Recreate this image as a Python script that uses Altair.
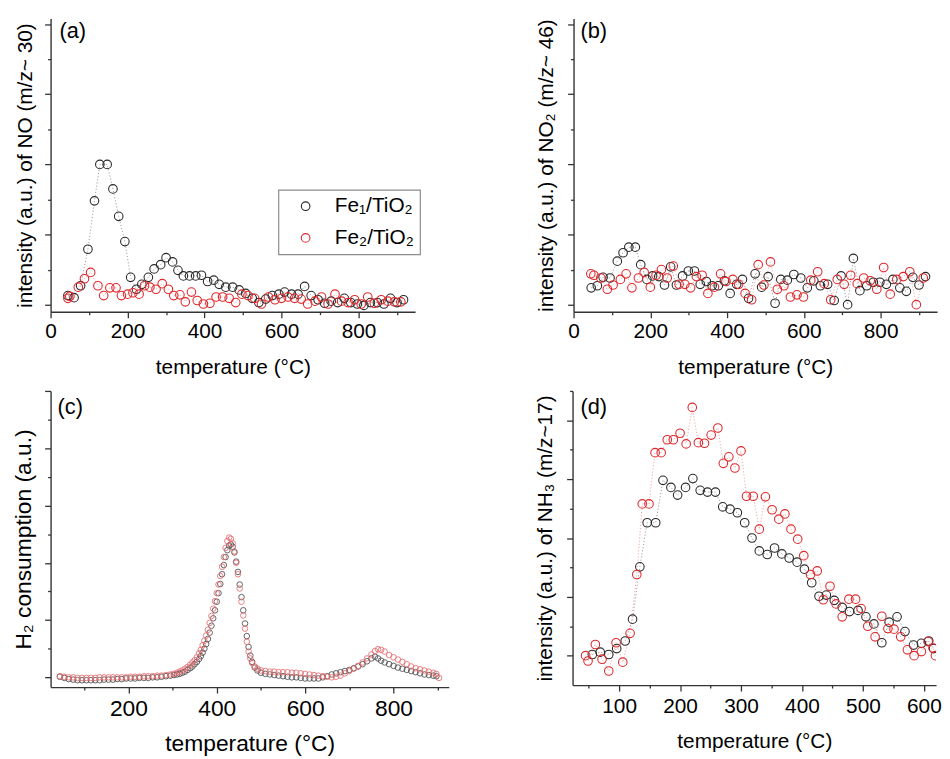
import altair as alt
import pandas as pd

FONT = "Liberation Sans"
S1 = "Fe₁/TiO₂"
S2 = "Fe₂/TiO₂"
BLACK = "#2a2a2a"
RED = "#e0282c"
BLACK_LINE = "#a0a0a0"
RED_LINE = "#f3a6a6"
C_BLACK = "#4a4a4a"
C_RED = "#e86a6e"

# ---------------- (a) NO, m/z 30 ----------------
A_T1 = [45, 61, 78, 97, 114, 128, 147, 162, 177, 193, 208, 223, 237, 254, 269, 286, 300, 317,
        331, 345, 361, 377, 392, 408, 424, 438, 455, 473, 490, 507, 524, 541, 559, 576, 593, 608,
        626, 643, 660, 677, 695, 712, 729, 746, 763, 780, 797, 814, 831, 849, 866, 883, 900, 917]
A_Y1 = [0.13, 0.10, 0.27, 0.79, 1.48, 2.0, 2.0, 1.65, 1.26, 0.90, 0.39, 0.22, 0.29, 0.39, 0.51,
        0.57, 0.67, 0.61, 0.49, 0.41, 0.41, 0.41, 0.42, 0.33, 0.35, 0.29, 0.25, 0.25, 0.21, 0.16,
        0.09, 0.03, 0.08, 0.13, 0.15, 0.18, 0.15, 0.15, 0.26, 0.13, 0.07, 0.02, 0.05, 0.03, 0.09,
        0.03, 0.01, -0.01, 0.03, 0.03, 0.01, 0.09, 0.03, 0.07]
A_T2 = [45, 50, 72, 88, 104, 123, 138, 154, 170, 184, 200, 214, 230, 244, 258, 274, 290, 306,
        320, 336, 350, 366, 381, 397, 414, 430, 447, 464, 481, 497, 513, 530, 548, 566, 583, 600,
        617, 634, 651, 668, 687, 704, 721, 739, 756, 773, 790, 807, 824, 841, 859, 876, 893, 910]
A_Y2 = [0.09, 0.12, 0.25, 0.37, 0.46, 0.27, 0.13, 0.24, 0.24, 0.13, 0.15, 0.17, 0.15, 0.27, 0.25,
        0.22, 0.30, 0.22, 0.13, 0.14, 0.04, 0.18, 0.06, 0.01, 0.02, 0.11, 0.11, 0.09, 0.03, 0.15,
        0.13, 0.09, 0.01, 0.11, 0.07, 0.09, 0.11, 0.09, 0.08, 0.01, 0.05, 0.11, 0.01, 0.15, 0.05,
        0.03, 0.07, 0.01, 0.11, 0.02, 0.07, 0.05, 0.04, 0.04]

# ---------------- (b) NO2, m/z 46 ----------------
B_T1 = [46, 62, 77, 95, 114, 129, 144, 161, 175, 191, 206, 222, 237, 253, 268, 284, 299, 315,
        330, 346, 361, 377, 393, 408, 425, 440, 456, 473, 490, 507, 525, 540, 557, 574, 592, 609,
        626, 643, 662, 679, 697, 714, 729, 746, 764, 781, 798, 815, 832, 850, 867, 884, 900, 917]
B_Y1 = [0.24, 0.27, 0.39, 0.38, 0.62, 0.74, 0.82, 0.82, 0.57, 0.36, 0.41, 0.40, 0.28, 0.54, 0.28,
        0.41, 0.48, 0.48, 0.29, 0.33, 0.27, 0.27, 0.34, 0.16, 0.29, 0.36, 0.09, 0.44, 0.25, 0.40,
        0.02, 0.36, 0.35, 0.43, 0.38, 0.24, 0.34, 0.27, 0.29, 0.06, 0.41, 0.0, 0.66, 0.20, 0.27,
        0.32, 0.32, 0.29, 0.36, 0.24, 0.19, 0.39, 0.28, 0.40]
B_T2 = [45, 53, 71, 88, 103, 122, 137, 152, 169, 184, 200, 215, 229, 244, 260, 275, 290, 305,
        320, 335, 350, 367, 383, 397, 415, 430, 447, 464, 481, 496, 513, 531, 548, 565, 582, 599,
        618, 636, 653, 670, 687, 705, 722, 739, 756, 773, 790, 808, 825, 842, 859, 876, 893, 911]
B_Y2 = [0.44, 0.42, 0.38, 0.22, 0.28, 0.36, 0.44, 0.24, 0.38, 0.46, 0.25, 0.42, 0.50, 0.38, 0.55,
        0.29, 0.29, 0.24, 0.40, 0.42, 0.16, 0.25, 0.44, 0.33, 0.36, 0.29, 0.16, 0.07, 0.57, 0.28,
        0.61, 0.22, 0.27, 0.11, 0.14, 0.11, 0.35, 0.47, 0.30, 0.07, 0.36, 0.29, 0.42, 0.30, 0.38,
        0.34, 0.22, 0.53, 0.15, 0.36, 0.40, 0.47, 0.0, 0.38]

# ---------------- (c) H2-TPR ----------------
C_T1 = [45, 55, 65, 75, 85, 95, 105, 115, 125, 135, 145, 155, 165, 175, 185, 195, 205, 215, 225,
        235, 245, 255, 265, 275, 285, 295,
        303, 310, 316, 322, 328, 334, 340, 345, 350, 355, 360, 364, 368, 372, 376, 380, 384, 388,
        392, 396, 400, 404, 408, 412, 416, 420, 424, 428, 432, 436, 440, 444, 448, 452, 456, 460,
        464, 468, 472, 476, 480, 486, 492, 500,
        510, 520, 530, 540, 550, 560, 570, 580, 590, 600, 610, 620, 630, 640, 650, 660, 670, 680,
        690, 700, 710, 720, 730, 740, 750, 758, 765, 772,
        780, 790, 800, 810, 820, 830, 840, 850, 860, 870, 880, 890, 897]
C_Y1 = [0.01, -0.01, -0.03, -0.04, -0.05, -0.05, -0.05, -0.05, -0.05, -0.05, -0.04, -0.04, -0.04,
        -0.03, -0.03, -0.02, -0.02, -0.02, -0.01, -0.01, -0.01, 0.0, 0.0, 0.01, 0.02, 0.03,
        0.04, 0.05, 0.06, 0.08, 0.10, 0.13, 0.16, 0.19, 0.23, 0.27, 0.32, 0.37, 0.43, 0.50, 0.58,
        0.67, 0.78, 0.90, 1.03, 1.17, 1.32, 1.47, 1.63, 1.80, 1.96, 2.10, 2.22, 2.30, 2.32, 2.28,
        2.18, 2.02, 1.84, 1.62, 1.40, 1.17, 0.94, 0.72, 0.53, 0.38, 0.27, 0.17, 0.12, 0.08,
        0.06, 0.05, 0.04, 0.03, 0.02, 0.01, 0.0, 0.0, -0.01, -0.02, -0.02, -0.02, -0.02, 0.0, 0.02,
        0.05, 0.07, 0.09, 0.11, 0.13, 0.16, 0.19, 0.23, 0.28, 0.33, 0.36, 0.33, 0.29,
        0.26, 0.23, 0.20, 0.17, 0.15, 0.13, 0.11, 0.09, 0.07, 0.05, 0.04, 0.03, 0.02]
C_T2 = [45, 55, 65, 75, 85, 95, 105, 115, 125, 135, 145, 155, 165, 175, 185, 195, 205, 215, 225,
        235, 245, 255, 265, 275, 285, 295,
        303, 310, 316, 322, 328, 334, 340, 345, 350, 355, 360, 364, 368, 372, 376, 380, 384, 388,
        392, 396, 400, 404, 408, 412, 416, 420, 424, 428, 432, 436, 440, 444, 448, 452, 456, 460,
        464, 468, 472, 476, 480, 486, 492, 500,
        510, 520, 530, 540, 550, 560, 570, 580, 590, 600, 610, 620, 630, 640, 650, 660, 670, 680,
        690, 700, 710, 720, 730, 740, 750, 758, 765, 772,
        780, 790, 800, 810, 820, 830, 840, 850, 860, 870, 880, 890, 897, 903]
C_Y2 = [0.02, 0.01, 0.0, 0.0, -0.01, -0.01, -0.01, -0.01, -0.01, 0.0, 0.0, 0.0, 0.0, 0.0, 0.0,
        0.0, 0.01, 0.01, 0.01, 0.02, 0.02, 0.02, 0.03, 0.03, 0.04, 0.05,
        0.06, 0.08, 0.10, 0.12, 0.15, 0.18, 0.22, 0.26, 0.30, 0.35, 0.42, 0.48, 0.56, 0.64, 0.73,
        0.83, 0.95, 1.07, 1.20, 1.33, 1.47, 1.62, 1.77, 1.93, 2.10, 2.26, 2.38, 2.44, 2.42, 2.34,
        2.20, 2.00, 1.80, 1.55, 1.32, 1.08, 0.85, 0.62, 0.45, 0.33, 0.25, 0.19, 0.15, 0.12,
        0.11, 0.10, 0.10, 0.09, 0.09, 0.09, 0.08, 0.08, 0.07, 0.06, 0.05, 0.04, 0.03, 0.02, 0.01,
        0.0, 0.01, 0.03, 0.07, 0.11, 0.15, 0.20, 0.26, 0.33, 0.40, 0.46, 0.49, 0.48,
        0.45, 0.39, 0.35, 0.31, 0.27, 0.23, 0.19, 0.16, 0.14, 0.12, 0.10, 0.08, 0.06, -0.01]

# ---------------- (d) NH3, m/z 17 ----------------
D_T1 = [56, 69, 83, 96, 110, 122, 134, 146, 160, 172, 185, 196, 209, 221, 233, 245, 258, 270,
        282, 294, 306, 318, 330, 343, 355, 367, 379, 392, 404, 416, 428, 440, 453, 466, 478, 492,
        505, 518, 531, 543, 556, 569, 583, 596, 608, 616]
D_Y1 = [0.02, 0.06, 0.02, 0.12, 0.25, 0.62, 1.51, 2.26, 2.26, 2.98, 2.86, 2.73, 2.86, 3.01, 2.81,
        2.78, 2.78, 2.53, 2.49, 2.43, 2.26, 2.0, 1.78, 1.72, 1.83, 1.73, 1.66, 1.59, 1.47, 1.24,
        1.01, 1.03, 0.94, 0.82, 0.75, 0.77, 0.66, 0.54, 0.22, 0.57, 0.66, 0.41, 0.18, 0.21, 0.25,
        0.12]
D_T2 = [45, 49, 61, 72, 83, 95, 106, 118, 129, 138, 149, 159, 169, 179, 189, 200, 210, 220, 230,
        240, 251, 262, 271, 280, 290, 300, 309, 320, 330, 340, 351, 362, 372, 382, 393, 403, 414,
        425, 435, 446, 456, 466, 477, 488, 497, 508, 520, 531, 541, 551, 562, 573, 584, 596, 607,
        615, 619]
D_Y2 = [0.0, -0.09, 0.19, -0.06, -0.26, 0.22, -0.11, 0.38, 1.38, 2.58, 2.58, 3.45, 3.45, 3.67,
        3.67, 3.78, 3.60, 4.22, 3.62, 3.61, 3.75, 3.87, 3.27, 3.38, 3.19, 3.48, 2.71, 2.71, 2.15,
        2.70, 2.48, 2.32, 2.41, 2.15, 1.98, 1.70, 1.38, 1.44, 0.95, 1.18, 0.88, 0.66, 0.96, 0.96,
        0.80, 0.50, 0.32, 0.67, 0.46, 0.45, 0.32, 0.10, 0.0, 0.07, 0.24, 0.13, 0.0]

TITLES = {
    "a": "intensity (a.u.) of NO (m/z~ 30)",
    "b": "intensity (a.u.) of NO₂ (m/z~ 46)",
    "c": "H₂ consumption (a.u.)",
    "d": "intensity (a.u.) of NH₃ (m/z~17)",
}
XTITLE = "temperature (°C)"


def frame(t1, y1, t2, y2):
    d1 = pd.DataFrame({"T": t1, "v": y1, "s": S1})
    d2 = pd.DataFrame({"T": t2, "v": y2, "s": S2})
    return pd.concat([d1, d2], ignore_index=True)


def panel(df, tag, w, h, xdom, ydom, xvals, xmod, yvals, ytitle, fs, msize, mstroke,
          colors, lines=True, legend=None, ytpad=10, xtpad=12, tagpos=(9, 3), lpad=3):
    xaxis = alt.Axis(values=xvals, labelExpr=f"datum.value % {xmod} === 0 ? datum.label : ''",
                     tickSize={"condition": {"test": f"datum.value % {xmod} === 0", "value": 6},
                               "value": 3},
                     title=XTITLE, titleFontSize=fs, labelFontSize=fs, labelFlush=False,
                     labelOverlap=False, labelPadding=lpad, titlePadding=xtpad, grid=False,
                     titleFontWeight="normal", titleFont=FONT, labelFont=FONT,
                     labelColor="black", titleColor="black")
    yaxis = alt.Axis(values=yvals, labels=False,
                     tickSize={"condition": {"test": "datum.value % 1 === 0", "value": 6},
                               "value": 3},
                     title=ytitle, titleFontSize=fs, titlePadding=ytpad, grid=False,
                     titleFontWeight="normal", titleFont=FONT, titleColor="black")
    x = alt.X("T:Q", scale=alt.Scale(domain=xdom, nice=False, zero=False), axis=xaxis)
    y = alt.Y("v:Q", scale=alt.Scale(domain=ydom, nice=False, zero=False), axis=yaxis)
    base = alt.Chart(df)
    layers = []
    if lines:
        for sname, lc in ((S1, BLACK_LINE), (S2, RED_LINE)):
            layers.append(base.transform_filter(alt.datum.s == sname).mark_line(
                strokeDash=[1.2, 2], strokeWidth=1, clip=True, color=lc).encode(x=x, y=y))
    color_kw = {}
    if legend is None:
        color_kw["legend"] = None
    else:
        color_kw["legend"] = legend
    layers.append(base.mark_point(filled=False, size=msize, strokeWidth=mstroke, opacity=1,
                                  clip=True).encode(
        x=x, y=y,
        color=alt.Color("s:N", scale=alt.Scale(domain=[S1, S2], range=colors), **color_kw),
        order=alt.Order("s:N")))
    layers.append(alt.Chart(pd.DataFrame({"t": [tag]})).mark_text(
        align="left", baseline="top", fontSize=22, font=FONT, color="black").encode(
        x=alt.value(tagpos[0]), y=alt.value(tagpos[1]), text="t:N"))
    return alt.layer(*layers).properties(width=w, height=h)


legend_a = alt.Legend(title=None, orient="none", legendX=230, legendY=173, strokeColor="#8c8c8c",
                      fillColor="white", padding=6, symbolOffset=11,
                      labelOffset=19, labelFontSize=21, labelFont=FONT, labelColor="black",
                      rowPadding=10, symbolSize=75, symbolStrokeWidth=1.1, symbolType="circle")

Y04 = [0, 0.5, 1, 1.5, 2, 2.5, 3, 3.5, 4]
X0900 = [0, 100, 200, 300, 400, 500, 600, 700, 800, 900]

pa = panel(frame(A_T1, A_Y1, A_T2, A_Y2), "(a)", 368, 296, [0, 947], [-0.1, 4.08], X0900, 200,
           Y04, TITLES["a"], 21, 75, 1.1, [BLACK, RED], legend=legend_a, ytpad=9, xtpad=15)
pb = panel(frame(B_T1, B_Y1, B_T2, B_Y2), "(b)", 367, 296, [0, 947], [-0.1, 4.08], X0900, 200,
           Y04, TITLES["b"], 21, 75, 1.1, [BLACK, RED], tagpos=(7, 3), ytpad=11, xtpad=15)
pc = panel(frame(C_T1, C_Y1, C_T2, C_Y2), "(c)", 402, 299, [24, 925], [-0.17, 5.0],
           [100, 200, 300, 400, 500, 600, 700, 800, 900], 200,
           [0, 0.5, 1, 1.5, 2, 2.5, 3, 3.5, 4, 4.5, 5], TITLES["c"], 23, 32, 0.85,
           [C_BLACK, C_RED], lines=False, tagpos=(7, 6), ytpad=9, xtpad=12, lpad=5)
pd_ = panel(frame(D_T1, D_Y1, D_T2, D_Y2), "(d)", 367, 297, [23.6, 620], [-0.5, 4.5],
            [50, 100, 150, 200, 250, 300, 350, 400, 450, 500, 550, 600], 100,
            [0, 0.5, 1, 1.5, 2, 2.5, 3, 3.5, 4, 4.5], TITLES["d"], 21, 75, 1.1, [BLACK, RED],
            tagpos=(8, 6), ytpad=11, xtpad=14, lpad=5)

row1 = alt.hconcat(pa, pb, spacing=160, bounds="flush").resolve_scale(color="independent")
row2 = alt.hconcat(pc, pd_, spacing=125, bounds="flush").resolve_scale(color="independent")
chart = alt.vconcat(row1, row2, spacing=13).resolve_scale(color="independent").properties(
    padding={"left": 4, "top": 7, "right": 0, "bottom": 0}, background="white"
).configure_view(strokeWidth=0).configure_axis(
    domainColor="#333333", domainWidth=1.4, tickColor="#333333", tickWidth=1.3,
    labelFont=FONT, titleFont=FONT, labelColor="black", titleColor="black",
    titleFontWeight="normal"
).configure_legend(strokeWidth=1.2)

chart.save("out.html", embed_options={"renderer": "svg", "actions": False})
